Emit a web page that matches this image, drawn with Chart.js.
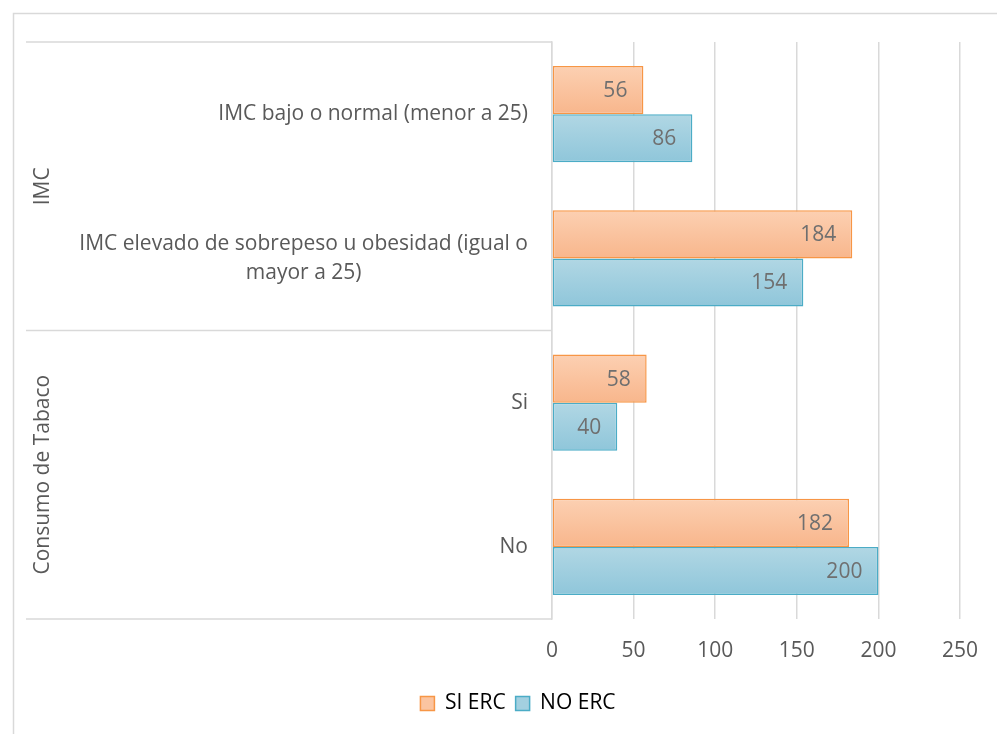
<!DOCTYPE html>
<html>
<head>
<meta charset="utf-8">
<script src="https://cdn.jsdelivr.net/npm/chart.js@4.4.1/dist/chart.umd.min.js"></script>
<style>
  html, body { margin: 0; padding: 0; background: #ffffff; }
  #wrap { width: 997px; height: 734px; position: relative; }
</style>
</head>
<body>
<div id="wrap"><canvas id="chart" width="997" height="734"></canvas></div>
<script>
// Categories (top to bottom) and the outer grouping they belong to
const categories = [
  ['IMC bajo o normal (menor a 25)'],
  ['IMC elevado de sobrepeso u obesidad (igual o', 'mayor a 25)'],
  ['Si'],
  ['No']
];
const groupNames = ['IMC', 'Consumo de Tabaco'];
const groupSizes = [2, 2];

// Series values
const siErc = [56, 184, 58, 182];
const noErc = [86, 154, 40, 200];

// Value axis
const xMin = 0;
const xMax = 250;
const xStep = 50;

const FONT = '"Open Sans", "Liberation Sans", sans-serif';
const FONT_SIZE = 21;
const AXIS_TEXT = '#595959';
const LABEL_TEXT = '#6f6f6f';
const LINE = '#d9d9d9';
const CAT_PCT = 0.667;

// Vertical gradient across a single bar, computed from the category scale
function barFill(dsIndex, top, bottom) {
  return (c) => {
    const chart = c.chart;
    const y = chart.scales && chart.scales.y;
    if (!chart.chartArea || !y || c.dataIndex === undefined) return bottom;
    const center = y.getPixelForValue(c.dataIndex);
    const slot = Math.abs(y.getPixelForValue(1) - y.getPixelForValue(0));
    const h = slot * CAT_PCT / 2;
    const y0 = dsIndex === 0 ? center - h : center;
    const g = chart.ctx.createLinearGradient(0, y0, 0, y0 + h);
    g.addColorStop(0, top);
    g.addColorStop(1, bottom);
    return g;
  };
}

// Frame, group separators, group names, category labels and value labels
const decorations = {
  id: 'decorations',
  beforeDraw(chart) {
    const { ctx, width, height } = chart;
    ctx.save();
    ctx.fillStyle = '#ffffff';
    ctx.fillRect(0, 0, width, height);
    ctx.strokeStyle = LINE;
    ctx.lineWidth = 1.5;
    ctx.strokeRect(13.5, 13.5, width + 10, height + 10);
    ctx.restore();
  },
  afterDraw(chart) {
    const { ctx, chartArea } = chart;
    const y = chart.scales.y;
    const slot = Math.abs(y.getPixelForValue(1) - y.getPixelForValue(0));
    const lineLeft = 26;
    ctx.save();
    // separators between the outer groups
    ctx.strokeStyle = LINE;
    ctx.lineWidth = 1.5;
    let idx = 0;
    const bounds = [y.getPixelForValue(0) - slot / 2];
    groupSizes.forEach(n => { idx += n; bounds.push(y.getPixelForValue(idx - 1) + slot / 2); });
    bounds.forEach(b => {
      ctx.beginPath();
      ctx.moveTo(lineLeft, b);
      ctx.lineTo(chartArea.left, b);
      ctx.stroke();
    });
    // group names, rotated
    ctx.fillStyle = AXIS_TEXT;
    ctx.font = FONT_SIZE + 'px ' + FONT;
    ctx.textAlign = 'center';
    ctx.textBaseline = 'middle';
    for (let g = 0; g < groupNames.length; g++) {
      const cy = (bounds[g] + bounds[g + 1]) / 2;
      ctx.save();
      ctx.translate(43, cy);
      ctx.rotate(-Math.PI / 2);
      ctx.fillText(groupNames[g], 0, 0);
      ctx.restore();
    }
    // category labels: block right aligned, lines centred within the block
    const right = chartArea.left - 24;
    const lh = 29;
    categories.forEach((lines, i) => {
      const cy = y.getPixelForValue(i);
      const w = Math.max(...lines.map(t => ctx.measureText(t).width));
      const cx = right - w / 2;
      lines.forEach((t, k) => {
        ctx.fillText(t, cx, cy + (k - (lines.length - 1) / 2) * lh);
      });
    });
    ctx.restore();
  },
  afterDatasetsDraw(chart) {
    const { ctx } = chart;
    ctx.save();
    ctx.fillStyle = LABEL_TEXT;
    ctx.font = FONT_SIZE + 'px ' + FONT;
    ctx.textAlign = 'right';
    ctx.textBaseline = 'middle';
    chart.data.datasets.forEach((ds, di) => {
      chart.getDatasetMeta(di).data.forEach((el, i) => {
        ctx.fillText(String(ds.data[i]), el.x - 16, el.y + 1);
      });
    });
    ctx.restore();
  }
};

new Chart(document.getElementById('chart'), {
  type: 'bar',
  data: {
    labels: categories.map(l => l.join(' ')),
    datasets: [
      {
        label: 'SI ERC',
        data: siErc,
        backgroundColor: barFill(0, '#fcd0b2', '#f8b68c'),
        borderColor: '#f79646',
        borderWidth: 1.5,
        borderSkipped: false,
        categoryPercentage: CAT_PCT,
        barPercentage: 1
      },
      {
        label: 'NO ERC',
        data: noErc,
        backgroundColor: barFill(1, '#b1d7e4', '#8fc6da'),
        borderColor: '#4bacc6',
        borderWidth: 1.5,
        borderSkipped: false,
        categoryPercentage: CAT_PCT,
        barPercentage: 1
      }
    ]
  },
  options: {
    indexAxis: 'y',
    responsive: false,
    animation: false,
    layout: { padding: { left: 70, right: 31, top: 42, bottom: 10 } },
    scales: {
      x: {
        min: xMin,
        max: xMax,
        ticks: { stepSize: xStep, color: AXIS_TEXT, font: { family: FONT, size: FONT_SIZE }, padding: 19 },
        grid: { color: LINE, lineWidth: 1.5, drawTicks: false },
        border: { display: false },
        afterFit(scale) { scale.height = 64; }
      },
      y: {
        ticks: { display: false },
        grid: { display: false, drawTicks: false },
        border: { display: true, color: LINE, width: 1.5 },
        afterFit(scale) { scale.width = 482; }
      }
    },
    plugins: {
      legend: {
        position: 'bottom',
        labels: {
          color: AXIS_TEXT,
          font: { family: FONT, size: FONT_SIZE },
          boxWidth: 14,
          boxHeight: 14,
          padding: 10,
          generateLabels(chart) {
            const fills = ['#fbc4a0', '#a3d0e0'];
            return chart.data.datasets.map((ds, i) => ({
              text: ds.label,
              fillStyle: fills[i],
              strokeStyle: ds.borderColor,
              lineWidth: 1.5,
              datasetIndex: i,
              hidden: false
            }));
          }
        }
      },
      tooltip: { enabled: false }
    }
  },
  plugins: [decorations]
});
</script>
</body>
</html>
